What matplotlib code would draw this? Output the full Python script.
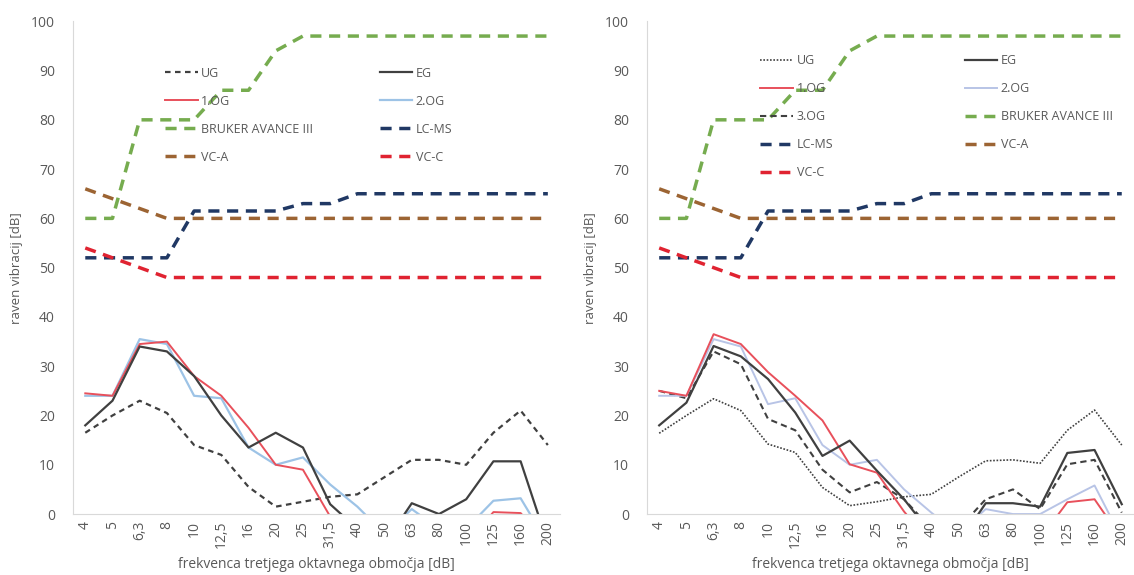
import numpy as np
import matplotlib
matplotlib.use("Agg")
from matplotlib import pyplot as plt

plt.rcParams['font.family'] = ['Open Sans', 'DejaVu Sans']

# third-octave band centres (category labels)
freq = ['4', '5', '6,3', '8', '10', '12,5', '16', '20', '25', '31,5',
        '40', '50', '63', '80', '100', '125', '160', '200']

# limit curves (same on both charts)
bruker = [60, 60, 80, 80, 80, 86, 86, 94, 97, 97, 97, 97, 97, 97, 97, 97, 97, 97]
lcms = [52, 52, 52, 52, 61.5, 61.5, 61.5, 61.5, 63, 63, 65, 65, 65, 65, 65, 65, 65, 65]
vca = [66, 64, 62, 60, 60, 60, 60, 60, 60, 60, 60, 60, 60, 60, 60, 60, 60, 60]
vcc = [54, 52, 50, 48, 48, 48, 48, 48, 48, 48, 48, 48, 48, 48, 48, 48, 48, 48]

# left chart - measured levels
ug_l = [16.5, 20, 23, 20.5, 14, 12, 5.5, 1.5, 2.5, 3.5, 4, 7.5, 11, 11, 10, 16.5, 21, 14]
eg_l = [18, 23, 34, 33, 28, 20, 13.5, 16.5, 13.5, 2, -3, -6, 2.2, 0, 3, 10.7, 10.7, -6]
og1_l = [24.5, 24, 34.5, 35, 28, 24, 17.5, 10, 9, -0.5, -6, -8, -6, -6, -6, 0.4, 0.2, -6]
og2_l = [24, 24, 35.5, 34.5, 24, 23.5, 13.5, 10, 11.5, 6, 1.5, -4, 1, -3, -3, 2.7, 3.2, -6]

# right chart - measured levels
ug_r = [16.4, 20, 23.4, 21, 14.2, 12.5, 5.4, 1.7, 2.5, 3.5, 4, 7.5, 10.8, 11, 10.3, 17, 21.1, 14]
eg_r = [18, 22.6, 34.1, 32, 27.4, 20.6, 11.8, 14.9, 8.8, 3, -4, -6, 2.2, 2.2, 1.5, 12.4, 13, 2]
og1_r = [25, 24, 36.5, 34.5, 28.8, 24, 19, 10.1, 8.4, 0.5, -6, -8, -8, -8, -5, 2.4, 3, -5]
og2_r = [24, 24, 35.5, 34, 22.3, 23.5, 14, 10, 11, 5, 0.3, -4, 1, 0, 0, 3, 5.8, -5]
og3_r = [25, 23.5, 33, 30.4, 19.3, 17, 9, 4.4, 6.5, 3, -3, -3, 3, 5, 1, 10.1, 11, 0.3]

grey_txt = '#595959'
c_eg = '#404040'
c_og1 = '#e8505b'
c_og2_l = '#9dc3e6'
c_og2_r = '#b8c4e6'
c_bruker = '#76ac4f'
c_lcms = '#203864'
c_vca = '#9c6433'
c_vcc = '#e02331'
dash = (0, (3.2, 2.2))

fig = plt.figure(figsize=(11.34, 5.75), dpi=100)
ax1 = fig.add_axes([0.0644, 0.106, 0.4295, 0.857])
ax2 = fig.add_axes([0.5705, 0.106, 0.4295, 0.857])
x = np.arange(len(freq))


def limits(ax):
    ax.plot(x, bruker, color=c_bruker, lw=2.5, ls=dash, label='BRUKER AVANCE III')
    ax.plot(x, lcms, color=c_lcms, lw=2.5, ls=dash, label='LC-MS')
    ax.plot(x, vca, color=c_vca, lw=2.5, ls=dash, label='VC-A')
    ax.plot(x, vcc, color=c_vcc, lw=2.5, ls=dash, label='VC-C')


# left
ax1.plot(x, ug_l, color=c_eg, lw=1.6, ls=(0, (2.5, 2)), label='UG')
ax1.plot(x, og2_l, color=c_og2_l, lw=1.6, label='2.OG')
ax1.plot(x, og1_l, color=c_og1, lw=1.4, label='1.OG')
ax1.plot(x, eg_l, color=c_eg, lw=1.6, label='EG')
limits(ax1)
# column-major order so that rows read UG | EG, 1.OG | 2.OG ...
order_l = ['UG', '1.OG', 'BRUKER AVANCE III', 'VC-A', 'EG', '2.OG', 'LC-MS', 'VC-C']

# right
ax2.plot(x, ug_r, color=c_eg, lw=1.2, ls=(0, (1, 1)), label='UG')
ax2.plot(x, og3_r, color=c_eg, lw=1.5, ls=(0, (3, 2)), label='3.OG')
ax2.plot(x, og2_r, color=c_og2_r, lw=1.4, label='2.OG')
ax2.plot(x, og1_r, color=c_og1, lw=1.4, label='1.OG')
ax2.plot(x, eg_r, color=c_eg, lw=1.6, label='EG')
limits(ax2)
order_r = ['UG', '1.OG', '3.OG', 'LC-MS', 'VC-C', 'EG', '2.OG', 'BRUKER AVANCE III', 'VC-A']

for ax, order, loc, cs in [(ax1, order_l, (0.189, 0.908), 5.3), (ax2, order_r, (0.233, 0.933), 10.5)]:
    ax.set_xlim(-0.45, 17.45)
    ax.set_ylim(0, 100)
    ax.set_yticks(range(0, 101, 10))
    ax.set_xticks(x)
    ax.set_xticklabels(freq, rotation=90)
    ax.tick_params(length=0, labelsize=10, colors=grey_txt)
    ax.tick_params(axis='y', pad=13)
    ax.tick_params(axis='x', pad=5)
    for s in ['top', 'right']:
        ax.spines[s].set_visible(False)
    for s in ['left', 'bottom']:
        ax.spines[s].set_color('#d9d9d9')
    ax.set_ylabel('raven vibracij [dB]', fontsize=9.5, color=grey_txt, labelpad=6)
    ax.set_xlabel('frekvenca tretjega oktavnega območja [dB]', fontsize=10, color=grey_txt, labelpad=6)
    h, l = ax.get_legend_handles_labels()
    d = dict(zip(l, h))
    ax.legend([d[k] for k in order], order, ncol=2, loc='upper left', bbox_to_anchor=loc,
              frameon=False, fontsize=9, labelcolor=grey_txt, handlelength=2.6,
              handletextpad=0.3, columnspacing=cs, labelspacing=1.2,
              borderpad=0, borderaxespad=0)

fig.savefig('out.png', dpi=100)
